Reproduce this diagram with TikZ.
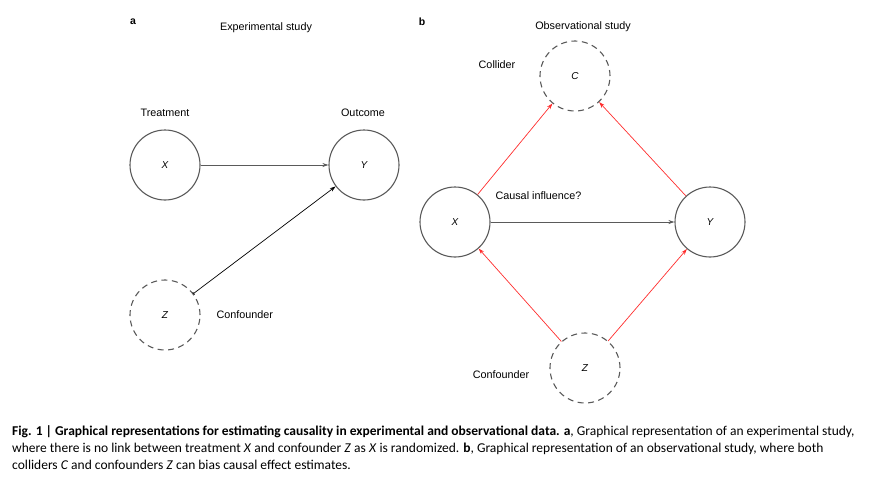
\documentclass[tikz,border=0pt]{standalone}
\usepackage{fontspec}
\setmainfont{Liberation Sans}
\newfontfamily\capfont{Carlito}
\usetikzlibrary{arrows.meta}
\definecolor{nodegray}{RGB}{90,90,90}
\definecolor{linkred}{RGB}{255,45,45}
\tikzset{
	var/.style={circle,draw=nodegray,line width=1.1pt,minimum size=70pt,inner sep=0pt,font=\fontsize{10}{12}\selectfont\itshape},
	hidden/.style={var,dash pattern=on 6pt off 4.5pt},
	tag/.style={font=\fontsize{10.8}{12}\selectfont},
	panel/.style={font=\fontsize{10.5}{12}\selectfont\bfseries},
	link/.style={-{Stealth[length=6pt,width=4pt]},line width=0.7pt},
	caplink/.style={link,linkred}
}
\begin{document}
\begin{tikzpicture}[x=1pt,y=-1pt]
			\useasboundingbox (0,0) rectangle (872,493);
			\node[panel] (pa) at (133,22) {a};
			\node[tag] (ta) at (266,28) {Experimental study};
			\node[tag] (treat) at (165,113) {Treatment};
			\node[tag] (outc) at (363,113) {Outcome};
			\node[var] (xa) at (165,165) {X};
			\node[var] (ya) at (364,165) {Y};
			\node[hidden] (za) at (165,315) {Z};
			\node[tag,anchor=west] (confa) at (213,315) {Confounder};
			\draw[link,nodegray] (xa) -- (ya);
			\draw[link,{Bar[width=3pt]}-{Stealth[length=6pt,width=4pt]}] (za) -- (ya);
			\node[panel] (pb) at (422,22) {b};
			\node[tag] (tb) at (583,27) {Observational study};
			\node[hidden] (cb) at (575,76) {C};
			\node[tag] (coll) at (497,65) {Collider};
			\node[var] (xb) at (455,222) {X};
			\node[var] (yb) at (710,222) {Y};
			\node[hidden] (zb) at (585,368) {Z};
			\node[tag] (confb) at (501,375) {Confounder};
			\node[tag,anchor=west] (cause) at (492,196) {Causal influence?};
			\draw[link,nodegray] (xb) -- (yb);
			\foreach \s/\t in {xb/cb,yb/cb,zb/xb,zb/yb}
			\draw[caplink] (\s) -- (\t);
			\node[anchor=north west,align=left,inner sep=0pt,font=\capfont\fontsize{13.5}{17.4}\selectfont] (cap) at (12,425)
				{\textbf{Fig. 1 | Graphical representations for estimating causality in experimental and observational data. a}, Graphical representation of an experimental study,\\
				where there is no link between treatment \textit{X} and confounder \textit{Z} as \textit{X} is randomized. \textbf{b}, Graphical representation of an observational study, where both\\
				colliders \textit{C} and confounders \textit{Z} can bias causal effect estimates.};
	\end{tikzpicture}
\end{document}
